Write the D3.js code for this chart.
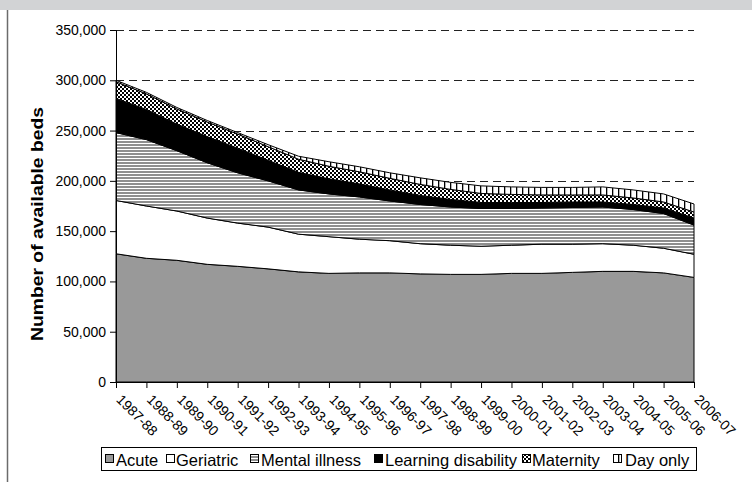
<!DOCTYPE html>
<html><head><meta charset="utf-8">
<script src="https://cdn.jsdelivr.net/npm/d3@7"></script>
<style>
body{margin:0;background:#fff}
svg{display:block;font-family:"Liberation Sans",Arial,sans-serif}
</style>
</head><body>
<svg id="chart" width="752" height="482"></svg>
<script>
const categories = ["1987-88","1988-89","1989-90","1990-91","1991-92","1992-93","1993-94","1994-95","1995-96","1996-97","1997-98","1998-99","1999-00","2000-01","2001-02","2002-03","2003-04","2004-05","2005-06","2006-07"];
const acute      = [127500,123000,121000,117000,115000,112500,109500,108000,108500,108500,107500,107000,107000,108000,108000,109000,110000,110000,108500,104000];
const geriatric  = [53000,52000,49000,46000,43000,41500,37500,36500,33500,32000,30000,29000,28000,28000,29000,28000,27500,26000,24500,23000];
const mentalIllness = [67500,66000,60000,55000,50000,46000,44000,42500,42000,39500,39000,38000,37500,36500,36000,36500,36500,35500,34500,29000];
const learningDisability = [34000,30000,26500,26000,24500,20500,17500,15000,13000,11000,9000,7500,6000,6000,5500,5500,5000,5000,5500,7000];
const maternity  = [16500,15500,15000,14500,14000,13500,13000,12500,12000,11500,11000,10000,9000,8000,7500,7000,7000,6500,6000,6000];
const dayOnly    = [1500,1500,1500,1500,1500,2000,3000,4500,5000,5500,6500,7000,7500,7500,7500,7500,8000,8000,8000,8000];
const seriesNames = ["Acute","Geriatric","Mental illness","Learning disability","Maternity","Day only"];
const yTickValues = [0,50000,100000,150000,200000,250000,300000,350000];
const yTitle = "Number of available beds";

const seriesData = [acute, geriatric, mentalIllness, learningDisability, maternity, dayOnly];
const rows = categories.map((c,i)=>{
  const r = {cat:c};
  seriesNames.forEach((n,k)=>{ r[n] = seriesData[k][i]; });
  return r;
});

const FONT = "'Liberation Sans', Arial, sans-serif";
const svg = d3.select("#chart");
const defs = svg.append("defs");

// patterns
const pMI = defs.append("pattern").attr("id","pMI").attr("patternUnits","userSpaceOnUse").attr("width",4).attr("height",3);
pMI.append("rect").attr("width",4).attr("height",3).attr("fill","#fff");
pMI.append("rect").attr("width",4).attr("height",2).attr("fill","#8e8e8e");

const pCk = defs.append("pattern").attr("id","pCk").attr("patternUnits","userSpaceOnUse").attr("width",4).attr("height",4);
pCk.append("rect").attr("width",4).attr("height",4).attr("fill","#000");
pCk.append("rect").attr("width",2).attr("height",2).attr("fill","#fff");
pCk.append("rect").attr("x",2).attr("y",2).attr("width",2).attr("height",2).attr("fill","#fff");

const pDay = defs.append("pattern").attr("id","pDay").attr("patternUnits","userSpaceOnUse").attr("width",6).attr("height",6);
pDay.append("rect").attr("width",6).attr("height",6).attr("fill","#fff");
pDay.append("rect").attr("width",1.3).attr("height",6).attr("fill","#000");

const fills = ["#999999","#ffffff","url(#pMI)","#000000","url(#pCk)","url(#pDay)"];

// frame decorations
svg.append("rect").attr("x",0).attr("y",0).attr("width",752).attr("height",10).attr("fill","#d2d3d5");
svg.append("line").attr("x1",7.5).attr("x2",7.5).attr("y1",10).attr("y2",482).attr("stroke","#6b6b6b").attr("stroke-width",1.5);

const x = d3.scalePoint().domain(categories).range([116,694]);
const y = d3.scaleLinear().domain([0,350000]).range([382,30]);

// gridlines
svg.append("g").selectAll("line").data(yTickValues.filter(v=>v>0)).join("line")
  .attr("x1",116).attr("x2",694).attr("y1",d=>Math.round(y(d))+0.5).attr("y2",d=>Math.round(y(d))+0.5)
  .attr("stroke","#222").attr("stroke-width",1).attr("stroke-dasharray","8,5");

// stacked areas
const stack = d3.stack().keys(seriesNames);
const layers = stack(rows);
const area = d3.area().x(d=>x(d.data.cat)).y0(d=>y(d[0])).y1(d=>y(d[1]));
svg.append("g").selectAll("path").data(layers).join("path")
  .attr("d",area).attr("fill",(d,i)=>fills[i]).attr("stroke","#000").attr("stroke-width",1).attr("stroke-linejoin","round");

// axes
const yAxis = d3.axisLeft(y).tickValues(yTickValues).tickSize(6).tickPadding(4).tickFormat(d3.format(","));
const gy = svg.append("g").attr("transform","translate(116,0)").call(yAxis);
gy.selectAll("text").attr("font-size",14).attr("fill","#000").attr("font-family",FONT);
gy.selectAll("path,line").attr("stroke","#000");

const xAxis = d3.axisBottom(x).tickSize(6).tickSizeOuter(0).tickFormat(()=>"");
const gx = svg.append("g").attr("transform","translate(0,382)").call(xAxis);
gx.selectAll("path,line").attr("stroke","#000");

svg.append("g").selectAll("text").data(categories).join("text")
  .attr("transform",d=>`translate(${x(d)+3},${397}) rotate(45)`)
  .attr("font-size",14).attr("fill","#000").attr("dy","0.35em").attr("font-family",FONT)
  .text(d=>d);

// y title
svg.append("text").attr("transform","translate(43,224) rotate(-90)")
  .attr("text-anchor","middle").attr("font-size",17).attr("font-weight","bold").attr("font-family",FONT)
  .attr("textLength",234).attr("lengthAdjust","spacingAndGlyphs")
  .text(yTitle);

// legend
const legendSwatchX = [105,166,250,374,522,613];
const legendTextX = [116,176,261,385,532,625];
const lg = svg.append("g");
lg.append("rect").attr("x",101.5).attr("y",447.5).attr("width",595).attr("height",23).attr("fill","#fff").attr("stroke","#000");
seriesNames.forEach((n,i)=>{
  lg.append("rect").attr("x",legendSwatchX[i]+0.5).attr("y",454.5).attr("width",8).attr("height",8).attr("fill",fills[i]).attr("stroke","#000");
  lg.append("text").attr("x",legendTextX[i]).attr("y",466).attr("font-size",16.5).attr("font-family",FONT).attr("fill","#000").text(n);
});
</script>
</body></html>
